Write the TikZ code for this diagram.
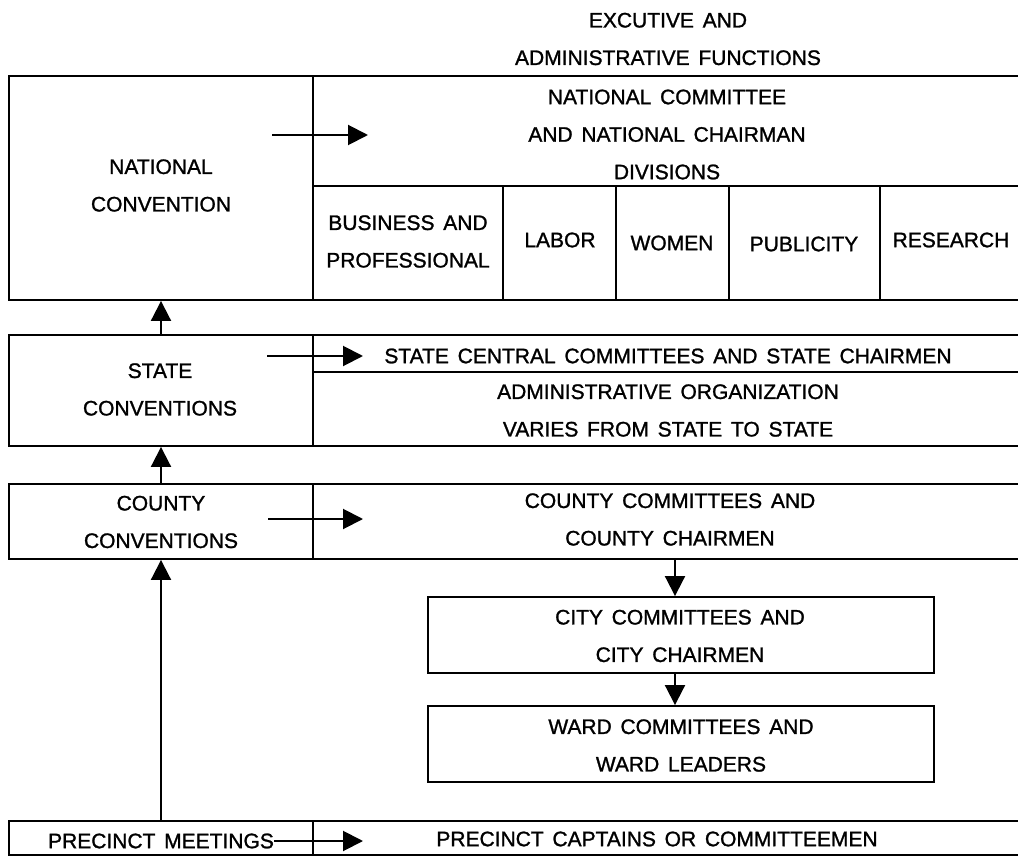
\documentclass[tikz,border=0pt]{standalone}
\usepackage{fontspec}
\setmainfont{Liberation Sans}[WordSpace=1.5,FakeBold=1.2]
\usetikzlibrary{arrows.meta}
\begin{document}
\begin{tikzpicture}[x=1pt,y=-1pt,
  lbl/.style={font=\fontsize{21}{37.5}\selectfont, align=center, inner sep=0pt},
  box/.style={draw, line width=1.9pt, inner sep=0pt, font=\fontsize{21}{37.5}\selectfont, align=center},
  ln/.style={line width=1.9pt},
  arr/.style={line width=2pt, -{Triangle[length=20pt,width=20pt]}}]
\useasboundingbox (0,0) rectangle (1018,856);

% left column boxes
\node[box, minimum width=304pt, minimum height=224pt] (nat) at (161,188) {};
\node[box, minimum width=304pt, minimum height=111pt] (state) at (161,390.5) {};
\node[box, minimum width=304pt, minimum height=75pt] (county) at (161,521.5) {};
\node[box, minimum width=304pt, minimum height=34pt] (prec) at (161,838) {};
\node[box, minimum width=506pt, minimum height=76pt] (city) at (681,635) {};
\node[box, minimum width=506pt, minimum height=76pt] (ward) at (681,744) {};

% right-side frames (open on the right)
\draw[ln] (9,76) -- (1018,76);
\draw[ln] (313,186) -- (1018,186);
\draw[ln] (313,300) -- (1018,300);
\foreach \x in {503,616,729,880} \draw[ln] (\x,186) -- (\x,300);
\draw[ln] (313,335) -- (1018,335);
\draw[ln] (313,372) -- (1018,372);
\draw[ln] (313,446) -- (1018,446);
\draw[ln] (313,484) -- (1018,484);
\draw[ln] (313,559) -- (1018,559);
\draw[ln] (313,821) -- (1018,821);
\draw[ln] (313,855) -- (1018,855);

% texts
\node[lbl] (head) at (668,39) {EXCUTIVE AND\\ADMINISTRATIVE FUNCTIONS};
\node[lbl] (natc) at (667,134.5) {NATIONAL COMMITTEE\\AND NATIONAL CHAIRMAN\\DIVISIONS};
\node[lbl] (natT) at (161,185.5) {NATIONAL\\CONVENTION};
\node[lbl] (bus) at (408,241.5) {BUSINESS AND\\PROFESSIONAL};
\node[lbl] (lab) at (560,240) {LABOR};
\node[lbl] (wom) at (672,243) {WOMEN};
\node[lbl] (pub) at (804,244) {PUBLICITY};
\node[lbl] (res) at (951,240) {RESEARCH};
\node[lbl] (stT) at (160,389.5) {STATE\\CONVENTIONS};
\node[lbl] (stc) at (668,356) {STATE CENTRAL COMMITTEES AND STATE CHAIRMEN};
\node[lbl] (sta) at (668,410.5) {ADMINISTRATIVE ORGANIZATION\\VARIES FROM STATE TO STATE};
\node[lbl] (coT) at (161,522) {COUNTY\\CONVENTIONS};
\node[lbl] (coc) at (670,519.5) {COUNTY COMMITTEES AND\\COUNTY CHAIRMEN};
\node[lbl] (ciT) at (680,636) {CITY COMMITTEES AND\\CITY CHAIRMEN};
\node[lbl] (waT) at (681,745.5) {WARD COMMITTEES AND\\WARD LEADERS};
\node[lbl] (prT) at (161,841) {PRECINCT MEETINGS};
\node[lbl] (prc) at (657,839) {PRECINCT CAPTAINS OR COMMITTEEMEN};

% arrow end points
\coordinate (a1s) at (272,135); \coordinate (a1e) at (368,135);
\coordinate (a2s) at (267,356); \coordinate (a2e) at (363,356);
\coordinate (a3s) at (268,519); \coordinate (a3e) at (363,519);
\coordinate (a4e) at (363,841);
\coordinate (cd) at (675,559);

\draw[arr] (a1s) -- (a1e);
\draw[arr] (a2s) -- (a2e);
\draw[arr] (a3s) -- (a3e);
\draw[arr] (prT.east) -- (a4e);
\draw[arr] (state.north) -- (nat.south);
\draw[arr] (county.north) -- (state.south);
\draw[arr] (prec.north) -- (county.south);
\draw[arr] (cd) -- (city.north -| cd);
\draw[arr] (city.south -| cd) -- (ward.north -| cd);
\end{tikzpicture}
\end{document}
